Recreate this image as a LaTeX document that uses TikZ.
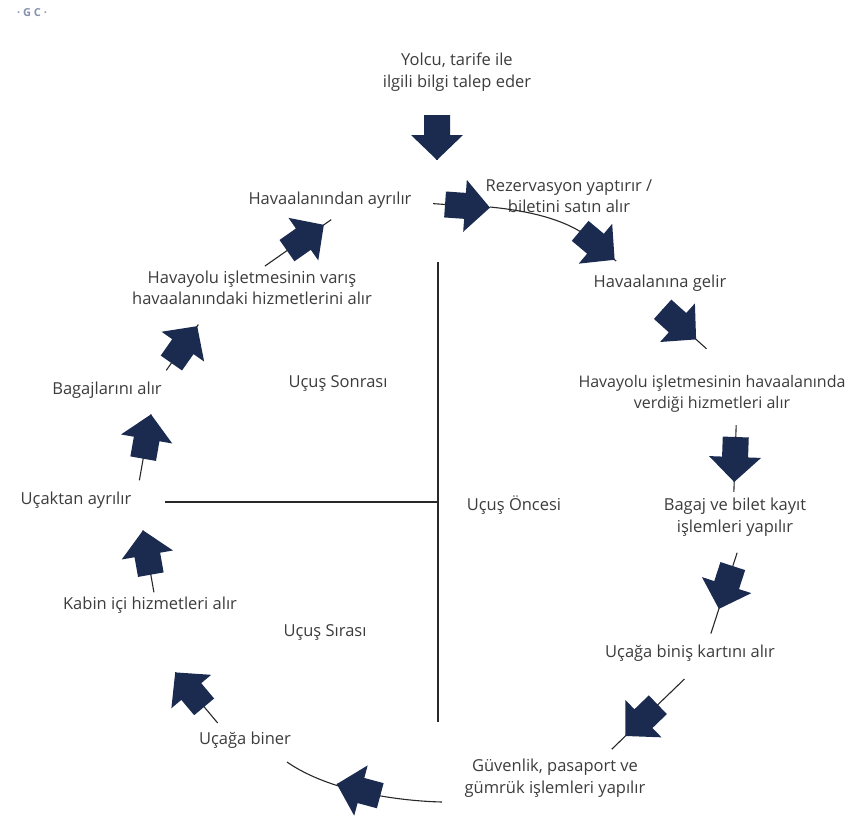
\documentclass[tikz,border=0pt]{standalone}
\usepackage{fontspec}
\setmainfont{Open Sans}
\definecolor{navy}{RGB}{27,43,80}
\definecolor{txt}{RGB}{60,60,60}
\definecolor{lin}{RGB}{40,40,40}
\definecolor{wmc}{RGB}{135,145,175}
\begin{document}
\begin{tikzpicture}[x=1pt,y=-1pt,
  lab/.style={align=center,text=txt,font=\fontsize{16.5}{21.5}\selectfont,inner sep=1pt},
  conn/.style={draw=lin,line width=1.1pt},
  axis/.style={draw=lin,line width=1.4pt},
  pics/barr/.style 2 args={code={
    \draw[conn] (-22-#1,0) -- (23+#2,0);
    \fill[navy] (-22,-13) -- (-2,-13) -- (-2,-26) -- (23,0) -- (-2,26) -- (-2,13) -- (-22,13) -- cycle;
  }}]
\useasboundingbox (0,0) rectangle (851,828);
\node[text=wmc,font=\fontsize{11}{11}\selectfont\bfseries] (wm) at (32,13) {· G C ·};

% texts
\node[lab] (t0) at (457,72) {Yolcu, tarife ile\\ilgili bilgi talep eder};
\node[lab] (tRez) at (569,196) {Rezervasyon yaptırır /\\biletini satın alır};
\node[lab] (tHg) at (660,283) {Havaalanına gelir};
\node[lab,font=\fontsize{16}{21.5}\selectfont] (tHyh) at (712,394) {Havayolu işletmesinin havaalanında\\verdiği hizmetleri alır};
\node[lab] (tBag) at (735,517) {Bagaj ve bilet kayıt\\işlemleri yapılır};
\node[lab] (tUbk) at (690,653) {Uçağa biniş kartını alır};
\node[lab] (tGuv) at (555,778) {Güvenlik, pasaport ve\\gümrük işlemleri yapılır};
\node[lab] (tUb) at (245,740) {Uçağa biner};
\node[lab] (tKab) at (150,605) {Kabin içi hizmetleri alır};
\node[lab] (tUa) at (76,500) {Uçaktan ayrılır};
\node[lab] (tBa) at (107,390) {Bagajlarını alır};
\node[lab] (tHvv) at (252,288) {Havayolu işletmesinin varış\\havaalanındaki hizmetlerini alır};
\node[lab] (tHa) at (330,200) {Havaalanından ayrılır};
\node[lab] (sSon) at (338,383) {Uçuş Sonrası};
\node[lab] (sOnc) at (514,505) {Uçuş Öncesi};
\node[lab] (sSir) at (325,632) {Uçuş Sırası};

% axes
\coordinate (vTop) at (438,262);
\coordinate (vBot) at (438,722);
\coordinate (hL) at (165,502);
\coordinate (hR) at (438,502);
\draw[axis] (vTop) -- (vBot);
\draw[axis] (hL) -- (hR);

% curves
\coordinate (c2a) at (490,207);
\coordinate (c2b) at (581,232);
\draw[conn] (c2a) .. controls (530,211) and (560,219) .. (c2b);
\coordinate (c8a) at (442,802);
\coordinate (c8b) at (287,762);
\draw[conn] (c8a) .. controls (400,801) and (330,792) .. (c8b);

% block arrows
\pic[rotate=-90] (a1) at (437,137) {barr={0}{0}};
\pic[rotate=-4] (a2) at (467,206) {barr={12}{0}};
\pic[rotate=-40] (a3) at (597,245) {barr={0}{2}};
\pic[rotate=-42] (a4) at (679,324) {barr={0}{14}};
\pic[rotate=-92] (a5) at (735,459) {barr={12}{10}};
\pic[rotate=-108] (a6) at (726,587) {barr={14}{26}};
\pic[rotate=-136] (a7) at (642,720) {barr={37}{19}};
\pic[rotate=165] (a8) at (359,790) {barr={0}{0}};
\pic[rotate=130] (a9) at (190,690) {barr={21}{0}};
\pic[rotate=100] (a10) at (147,553) {barr={18}{0}};
\pic[rotate=80] (a11) at (147,437) {barr={22}{0}};
\pic[rotate=55] (a12) at (184,345) {barr={9}{2}};
\pic[rotate=35] (a13) at (305,238) {barr={27}{9}};
\end{tikzpicture}
\end{document}
